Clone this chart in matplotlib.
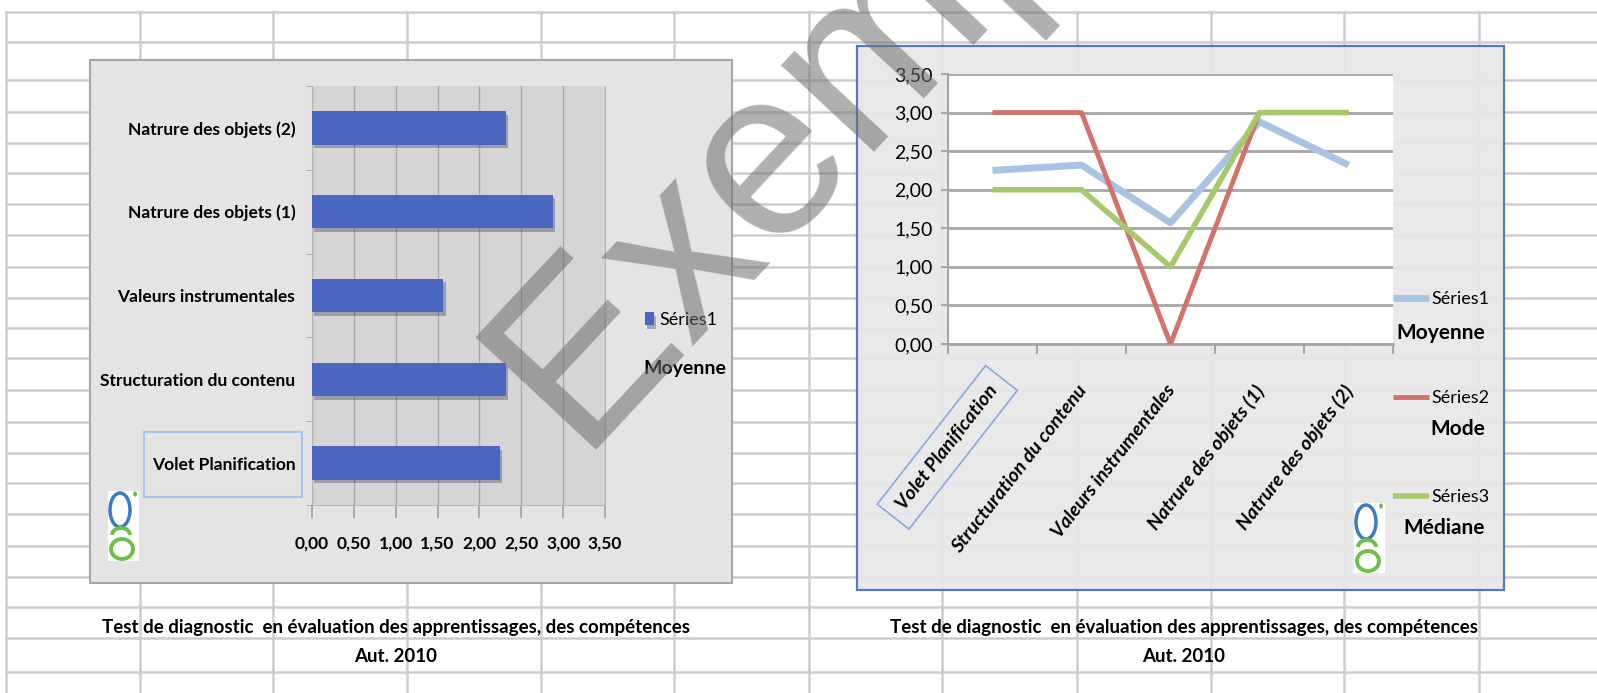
import matplotlib.pyplot as plt
import matplotlib.patheffects as pe
from matplotlib.patches import Rectangle, Ellipse, Arc
import matplotlib.transforms as mtransforms
import numpy as np

# data
categories = ['Volet Planification', 'Structuration du contenu', 'Valeurs instrumentales',
              'Natrure des objets (1)', 'Natrure des objets (2)']
moyenne = [2.25, 2.32, 1.57, 2.88, 2.32]
mode = [3.0, 3.0, 0.0, 3.0, 3.0]
mediane = [2.0, 2.0, 1.0, 3.0, 3.0]
series_names = ['Séries1', 'Séries2', 'Séries3']
stat_names = ['Moyenne', 'Mode', 'Médiane']
caption = 'Test de diagnostic  en évaluation des apprentissages, des compétences'
caption2 = 'Aut. 2010'

plt.rcParams['font.family'] = ['Lato', 'DejaVu Sans']

W, H = 1597, 693
fig = plt.figure(figsize=(W / 100, H / 100), dpi=100)

# background "spreadsheet" in pixel coordinates
bg = fig.add_axes([0, 0, 1, 1])
bg.set_xlim(0, W)
bg.set_ylim(H, 0)
bg.axis('off')

row_lines = [12, 42, 80, 112, 143, 173, 204, 235, 267, 298, 328, 358, 390, 422,
             453, 483, 514, 546, 577, 607, 638, 672]
col_lines = [6, 140, 273, 407, 541, 674, 809, 942, 1077, 1211, 1344, 1479]
for y in row_lines:
    bg.plot([6, W], [y, y], color='#cdcdcd', lw=1.8, zorder=1)
for x in col_lines:
    bg.plot([x, x], [12, H], color='#cdcdcd', lw=1.8, zorder=1)

# chart frames
bg.add_patch(Rectangle((90, 60), 642, 523, fc='#e4e4e4', ec='#a6a6a6', lw=1.5, zorder=2))
bg.add_patch(Rectangle((857, 46), 647, 544, fc='#e8e8e8', ec='#4a6fc4', lw=1.6,
                       alpha=0.93, zorder=2))


def px_axes(x0, y0, x1, y1):
    return fig.add_axes([x0 / W, 1 - y1 / H, (x1 - x0) / W, (y1 - y0) / H])


def logo(cx, top):
    bg.add_patch(Rectangle((cx - 15, top), 31, 70, fc='white', ec='none', zorder=3))
    bg.add_patch(Ellipse((cx - 3, top + 19), 20, 34, fc='none', ec='#3b7ac4', lw=2.5, zorder=4))
    bg.add_patch(Ellipse((cx + 12, top + 3), 4, 5, fc='#6cbf4a', ec='none', zorder=4))
    bg.add_patch(Arc((cx - 2, top + 44), 18, 14, theta1=180, theta2=360, ec='#6cc04a', lw=2.8, zorder=4))
    bg.add_patch(Ellipse((cx - 1, top + 58), 22, 20, fc='none', ec='#6cc04a', lw=2.8, zorder=4))


# ---------------- left chart: horizontal bars ----------------
ax1 = px_axes(312, 86, 605, 505)
ax1.set_facecolor('#d5d5d5')
y = np.arange(len(categories))
bars = ax1.barh(y, moyenne, height=0.4, color='#4a66c0', label=series_names[0], zorder=3)
for b in bars:
    b.set_path_effects([pe.SimplePatchShadow(offset=(1.5, -2.5), alpha=0.3), pe.Normal()])
ax1.set_xlim(0, 3.5)
ax1.set_ylim(-0.5, 4.5)
xt = np.arange(0, 3.51, 0.5)
ax1.set_xticks(xt)
ax1.set_xticklabels([f'{v:.2f}'.replace('.', ',') for v in xt], fontsize=12.5, fontweight='bold')
ax1.set_yticks(y)
ax1.set_yticklabels(categories, fontsize=12.5, fontweight='bold')
ax1.set_yticks(np.arange(-0.5, 5, 1), minor=True)
ax1.tick_params(axis='x', length=9, color='#a0a0a0', pad=13, width=1.2)
ax1.tick_params(axis='y', which='major', length=0, pad=12)
ax1.tick_params(axis='y', which='minor', length=4, color='#a0a0a0')
ax1.grid(axis='x', color='#a8a8a8', lw=1, zorder=1)
for s in ax1.spines.values():
    s.set_color('#b5b5b5')
ax1.spines['top'].set_visible(False)
ax1.legend(loc='upper left', bbox_to_anchor=(645 / W, 1 - 312 / H), bbox_transform=fig.transFigure,
           frameon=False, fontsize=13, handlelength=0.5, handleheight=0.75, handletextpad=0.3,
           borderpad=0, borderaxespad=0)
fig.text(685 / W, 1 - 369 / H, stat_names[0], ha='center', va='center', fontsize=14,
         fontweight='bold')
bg.add_patch(Rectangle((144, 432), 158, 65, fc='none', ec='#a9c3ec', lw=1.5, zorder=5))
logo(123, 491)

fig.text(396 / W, 1 - 627 / H, caption, ha='center', va='center', fontsize=13.5, fontweight='bold')
fig.text(396 / W, 1 - 657 / H, caption2, ha='center', va='center', fontsize=13.5, fontweight='bold')

# ---------------- right chart: lines ----------------
ax2 = px_axes(948, 74, 1393, 344)
ax2.set_facecolor('white')
x = np.arange(len(categories))
l1, = ax2.plot(x, moyenne, color='#a9c4e2', lw=5, solid_capstyle='butt', label=series_names[0], zorder=3)
l2, = ax2.plot(x, mode, color='#d3716b', lw=3.5, solid_capstyle='butt', label=series_names[1], zorder=4)
l3, = ax2.plot(x, mediane, color='#a7c86c', lw=4, solid_capstyle='butt', label=series_names[2], zorder=5)
ax2.set_xlim(-0.5, 4.5)
ax2.set_ylim(0, 3.5)
yt = np.arange(0, 3.51, 0.5)
ax2.set_yticks(yt)
ax2.set_yticklabels([f'{v:.2f}'.replace('.', ',') for v in yt], fontsize=14)
ax2.grid(axis='y', color='#a6a6a6', lw=2, zorder=1)
ax2.tick_params(axis='y', length=5, color='#a6a6a6', width=1.5, pad=6)
ax2.set_xticks([])
ax2.set_xticks(np.arange(-0.5, 5, 1), minor=True)
ax2.tick_params(axis='x', which='minor', length=7, color='#a6a6a6', width=1.5)
ax2.spines['top'].set_visible(False)
ax2.spines['right'].set_visible(False)
ax2.spines['left'].set_color('#a6a6a6')
ax2.spines['bottom'].set_color('#a6a6a6')
ax2.spines['left'].set_linewidth(1.5)
ax2.spines['bottom'].set_linewidth(2)

trans = mtransforms.blended_transform_factory(ax2.transData, ax2.transAxes)
for i, c in enumerate(categories):
    kw = {}
    if i == 0:
        kw['bbox'] = dict(boxstyle='square,pad=0.6', fc='none', ec='#8aa6e2', lw=1.2)
    ax2.text(i + 0.02, -0.16, c, transform=trans, rotation=52, rotation_mode='anchor',
             ha='right', va='center', fontsize=14, fontweight='bold', fontstyle='italic',
             clip_on=False, **kw)

ax2.legend(handles=[l1, l2, l3], loc='upper left', bbox_to_anchor=(1393 / W, 1 - 291 / H),
           bbox_transform=fig.transFigure, frameon=False, fontsize=13, handlelength=2.0,
           handletextpad=0.15, labelspacing=4.6, borderpad=0, borderaxespad=0)
for name, yy in zip(stat_names, [333, 429, 528]):
    fig.text(1485 / W, 1 - yy / H, name, ha='right', va='center', fontsize=15, fontweight='bold')
logo(1369, 503)

fig.text(1184 / W, 1 - 627 / H, caption, ha='center', va='center', fontsize=13.5, fontweight='bold')
fig.text(1184 / W, 1 - 657 / H, caption2, ha='center', va='center', fontsize=13.5, fontweight='bold')

# watermark
fig.text(577 / W, 1 - 450 / H, 'Exemple', rotation=47, rotation_mode='anchor', ha='left',
         va='baseline', fontsize=172, color='#6e6e6e', alpha=0.55, family='Liberation Sans',
         zorder=100)

fig.savefig('out.png', dpi=100)
